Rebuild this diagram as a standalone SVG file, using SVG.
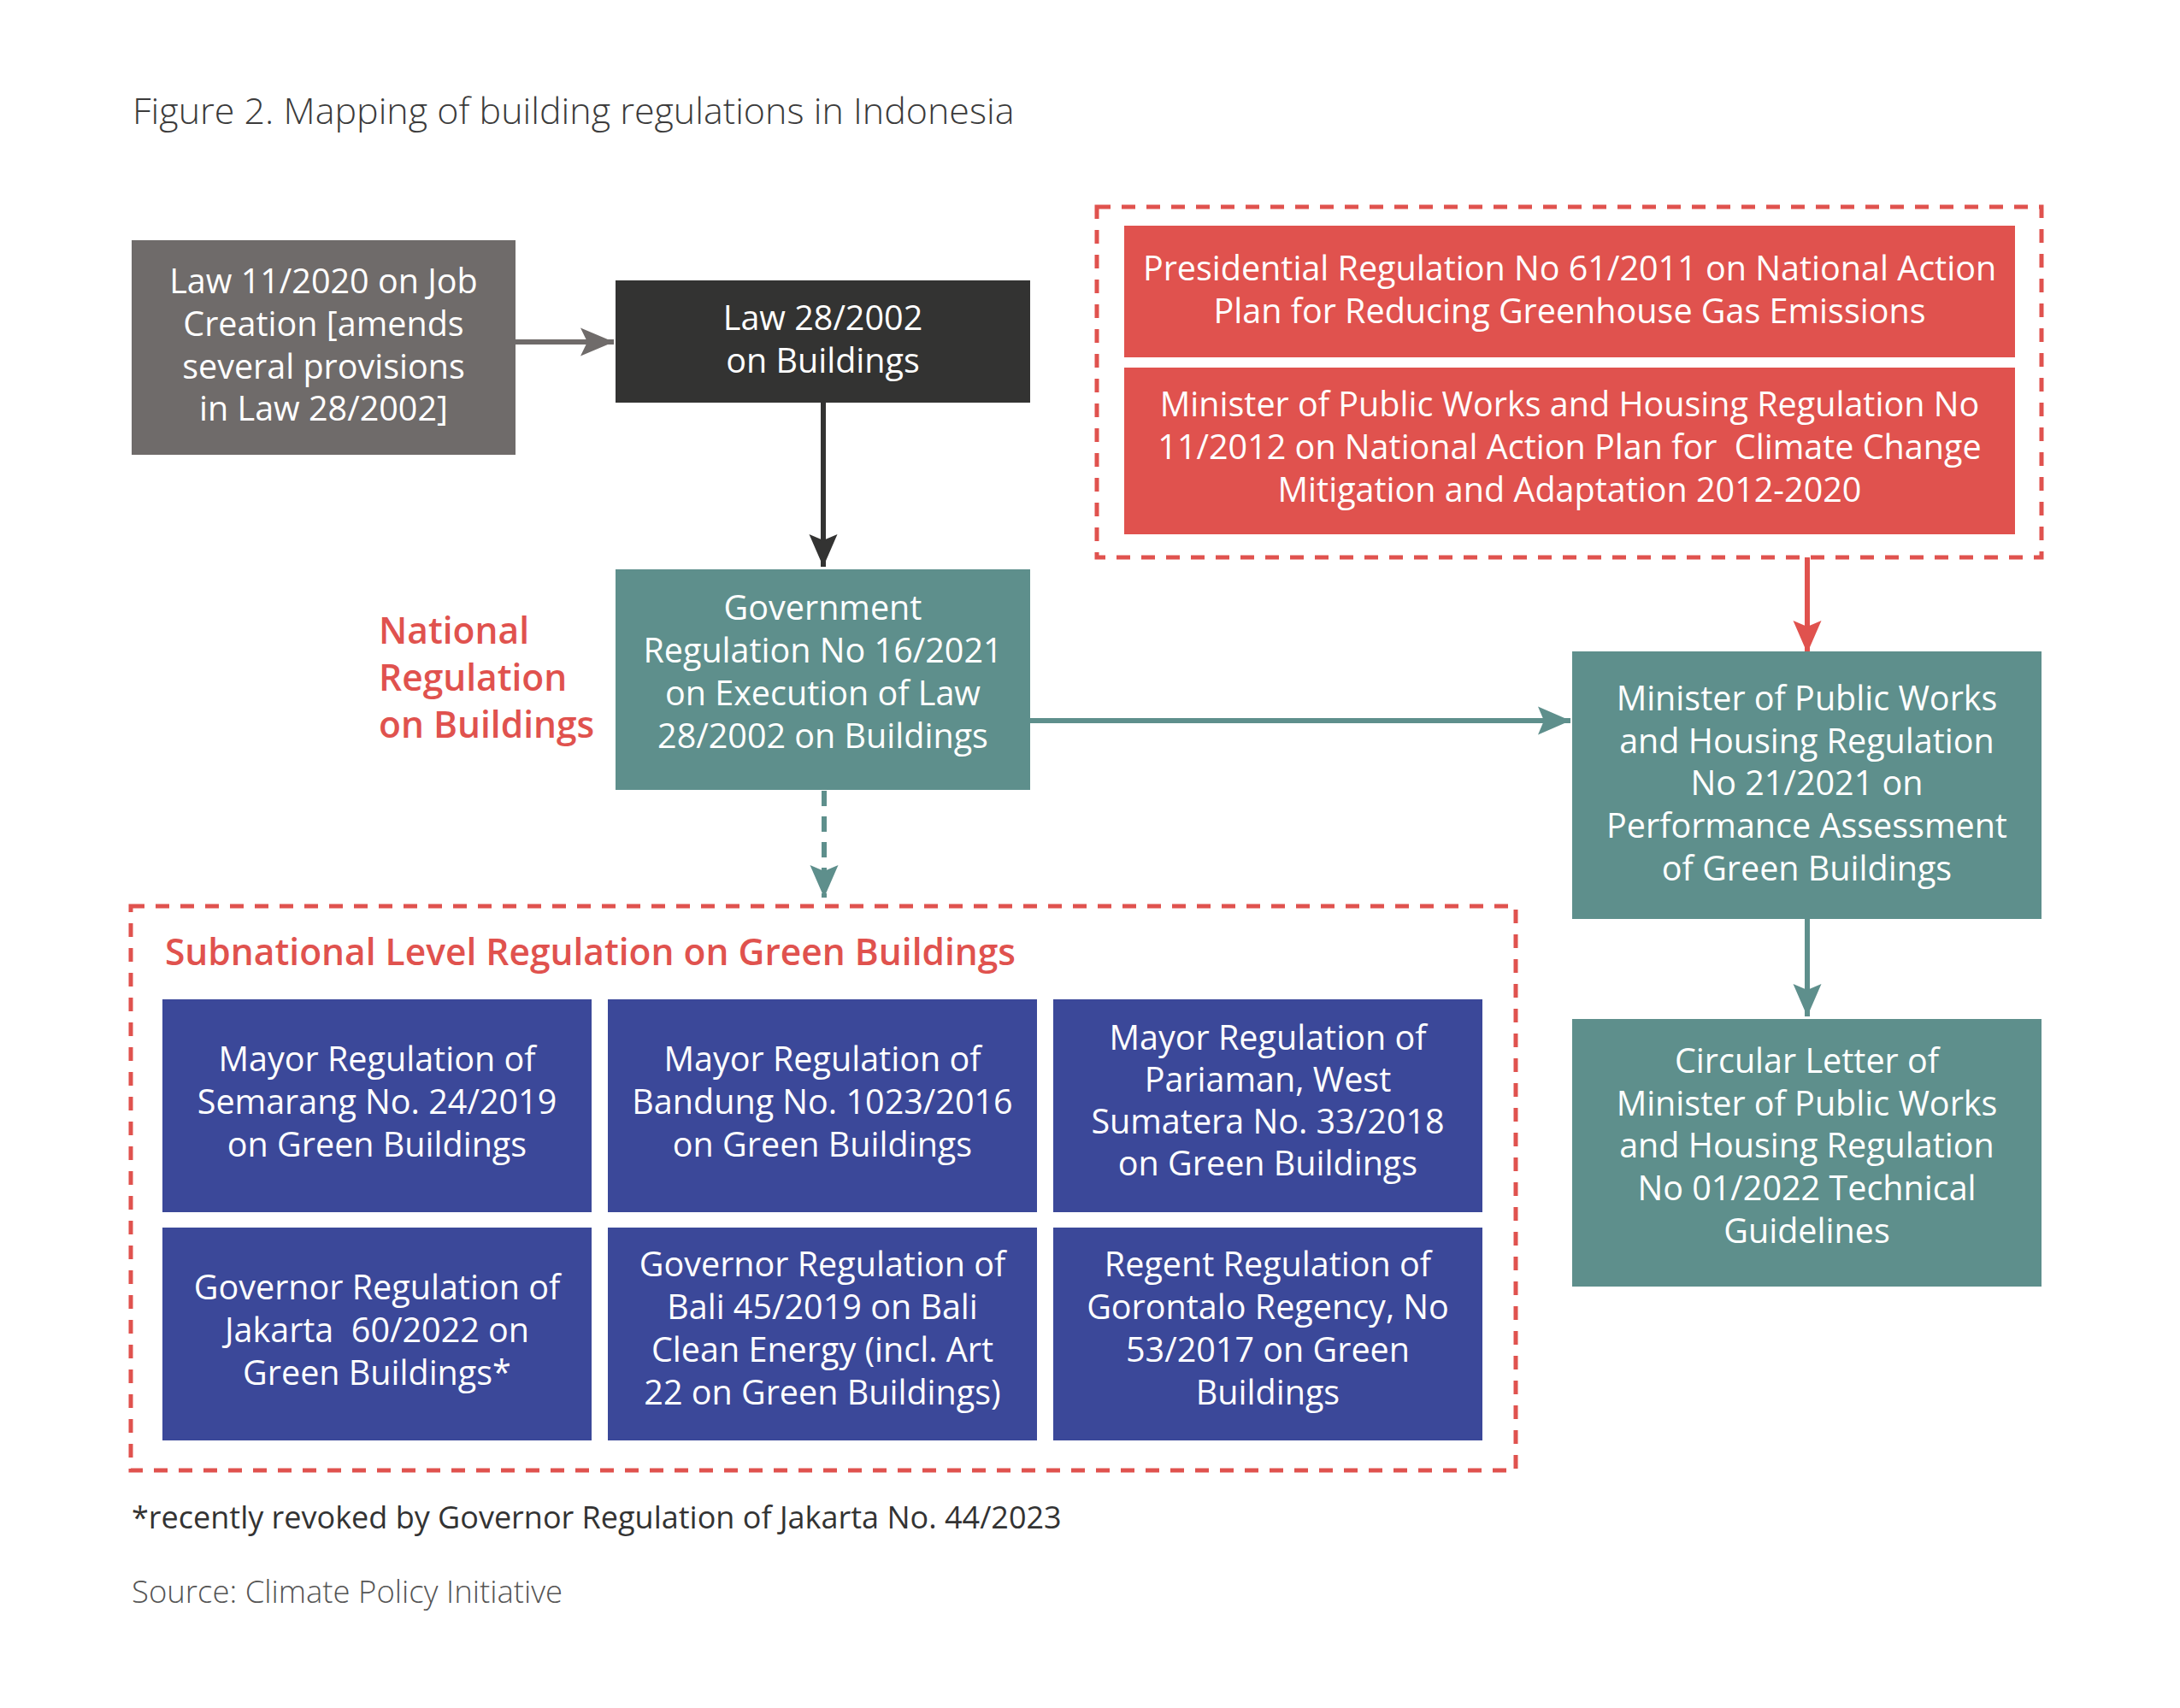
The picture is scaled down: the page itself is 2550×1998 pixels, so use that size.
<svg xmlns="http://www.w3.org/2000/svg" width="2550" height="1998" viewBox="0 0 2550 1998">
<style>
text{font-family:"Open Sans",Lato,"Liberation Sans",sans-serif}
.nt{fill:#ffffff;font-size:39.5px;text-anchor:middle}
.lbl{fill:#e0524e;font-size:42.5px;font-weight:600}
.ttl{fill:#3b3b3b;font-size:43px;font-weight:300}
.note{fill:#333333;font-size:36px}
.src{fill:#555555;font-size:36.5px;font-weight:300}
.grp{fill:none;stroke:#e0524e;stroke-width:5;stroke-dasharray:16 13}
.blue{fill:#3b4899}
.teal{fill:#5e8f8c}
.red{fill:#e0524e}
.pre{white-space:pre}
</style>
<defs>
<marker id="ah-gray" viewBox="-40 -18 42 36" refX="0" refY="0" markerWidth="42" markerHeight="36" markerUnits="userSpaceOnUse" orient="auto"><path d="M0,0 L-39,-16.5 L-31,0 L-39,16.5 Z" fill="#6f6b6a"/></marker>
<marker id="ah-dark" viewBox="-40 -18 42 36" refX="0" refY="0" markerWidth="42" markerHeight="36" markerUnits="userSpaceOnUse" orient="auto"><path d="M0,0 L-38,-16.5 L-31,0 L-38,16.5 Z" fill="#333332"/></marker>
<marker id="ah-teal" viewBox="-40 -18 42 36" refX="0" refY="0" markerWidth="42" markerHeight="36" markerUnits="userSpaceOnUse" orient="auto"><path d="M0,0 L-38,-16.5 L-31,0 L-38,16.5 Z" fill="#5e8f8c"/></marker>
<marker id="ah-red" viewBox="-40 -18 42 36" refX="0" refY="0" markerWidth="42" markerHeight="36" markerUnits="userSpaceOnUse" orient="auto"><path d="M0,0 L-38,-16.5 L-31,0 L-38,16.5 Z" fill="#e0524e"/></marker>
</defs>
<rect width="2550" height="1998" fill="#ffffff"/>

<text class="ttl" x="155" y="145">Figure 2. Mapping of building regulations in Indonesia</text>

<g id="connectors" fill="none" stroke-width="6">
<line x1="603" y1="400" x2="718" y2="400" stroke="#6f6b6a" marker-end="url(#ah-gray)"/>
<line x1="963" y1="471" x2="963" y2="663" stroke="#333332" marker-end="url(#ah-dark)"/>
<line x1="1205" y1="843" x2="1837" y2="843" stroke="#5e8f8c" marker-end="url(#ah-teal)"/>
<line x1="964" y1="925" x2="964" y2="1050" stroke="#5e8f8c" stroke-dasharray="18 12" marker-end="url(#ah-teal)"/>
<line x1="2114" y1="652" x2="2114" y2="764" stroke="#e0524e" marker-end="url(#ah-red)"/>
<line x1="2114" y1="1075" x2="2114" y2="1189" stroke="#5e8f8c" marker-end="url(#ah-teal)"/>
</g>

<g id="law-11-2020">
<rect x="154" y="281" width="449" height="251" fill="#6f6b6a"/>
<text class="nt"><tspan x="378.5" y="343">Law 11/2020 on Job</tspan><tspan x="378.5" y="393">Creation [amends</tspan><tspan x="378.5" y="443">several provisions</tspan><tspan x="378.5" y="492">in Law 28/2002]</tspan></text>
</g>

<g id="law-28-2002">
<rect x="720" y="328" width="485" height="143" fill="#333332"/>
<text class="nt"><tspan x="962.5" y="386">Law 28/2002</tspan><tspan x="962.5" y="436">on Buildings</tspan></text>
</g>

<g id="national-label">
<text class="lbl"><tspan x="443" y="753">National</tspan><tspan x="443" y="808">Regulation</tspan><tspan x="443" y="863">on Buildings</tspan></text>
</g>

<g id="gov-reg-16-2021">
<rect class="teal" x="720" y="666" width="485" height="258"/>
<text class="nt"><tspan x="962.5" y="725">Government</tspan><tspan x="962.5" y="775">Regulation No 16/2021</tspan><tspan x="962.5" y="825">on Execution of Law</tspan><tspan x="962.5" y="875">28/2002 on Buildings</tspan></text>
</g>

<g id="climate-group">
<rect class="grp" x="1283" y="242" width="1105" height="410"/>
<g id="pres-reg-61-2011">
<rect class="red" x="1315" y="264" width="1042" height="154"/>
<text class="nt"><tspan x="1836" y="328">Presidential Regulation No 61/2011 on National Action</tspan><tspan x="1836" y="378">Plan for Reducing Greenhouse Gas Emissions</tspan></text>
</g>
<g id="mpwh-reg-11-2012">
<rect class="red" x="1315" y="430" width="1042" height="195"/>
<text class="nt"><tspan x="1836" y="487">Minister of Public Works and Housing Regulation No</tspan><tspan class="pre" x="1836" y="537">11/2012 on National Action Plan for  Climate Change</tspan><tspan x="1836" y="587">Mitigation and Adaptation 2012-2020</tspan></text>
</g>
</g>

<g id="mpwh-reg-21-2021">
<rect class="teal" x="1839" y="762" width="549" height="313"/>
<text class="nt"><tspan x="2113.5" y="831">Minister of Public Works</tspan><tspan x="2113.5" y="881">and Housing Regulation</tspan><tspan x="2113.5" y="930">No 21/2021 on</tspan><tspan x="2113.5" y="980">Performance Assessment</tspan><tspan x="2113.5" y="1030">of Green Buildings</tspan></text>
</g>

<g id="circular-letter-01-2022">
<rect class="teal" x="1839" y="1192" width="549" height="313"/>
<text class="nt"><tspan x="2113.5" y="1255">Circular Letter of</tspan><tspan x="2113.5" y="1305">Minister of Public Works</tspan><tspan x="2113.5" y="1354">and Housing Regulation</tspan><tspan x="2113.5" y="1404">No 01/2022 Technical</tspan><tspan x="2113.5" y="1454">Guidelines</tspan></text>
</g>

<g id="subnational-group">
<rect class="grp" x="153" y="1060" width="1620" height="660"/>
<text class="lbl" x="193" y="1129">Subnational Level Regulation on Green Buildings</text>
<g id="semarang">
<rect class="blue" x="190" y="1169" width="502" height="249"/>
<text class="nt"><tspan x="441" y="1253">Mayor Regulation of</tspan><tspan x="441" y="1303">Semarang No. 24/2019</tspan><tspan x="441" y="1353">on Green Buildings</tspan></text>
</g>
<g id="bandung">
<rect class="blue" x="711" y="1169" width="502" height="249"/>
<text class="nt"><tspan x="962" y="1253">Mayor Regulation of</tspan><tspan x="962" y="1303">Bandung No. 1023/2016</tspan><tspan x="962" y="1353">on Green Buildings</tspan></text>
</g>
<g id="pariaman">
<rect class="blue" x="1232" y="1169" width="502" height="249"/>
<text class="nt"><tspan x="1483" y="1228">Mayor Regulation of</tspan><tspan x="1483" y="1277">Pariaman, West</tspan><tspan x="1483" y="1326">Sumatera No. 33/2018</tspan><tspan x="1483" y="1375">on Green Buildings</tspan></text>
</g>
<g id="jakarta">
<rect class="blue" x="190" y="1436" width="502" height="249"/>
<text class="nt"><tspan x="441" y="1520">Governor Regulation of</tspan><tspan class="pre" x="441" y="1570">Jakarta  60/2022 on</tspan><tspan x="441" y="1620">Green Buildings*</tspan></text>
</g>
<g id="bali">
<rect class="blue" x="711" y="1436" width="502" height="249"/>
<text class="nt"><tspan x="962" y="1493">Governor Regulation of</tspan><tspan x="962" y="1543">Bali 45/2019 on Bali</tspan><tspan x="962" y="1593">Clean Energy (incl. Art</tspan><tspan x="962" y="1643">22 on Green Buildings)</tspan></text>
</g>
<g id="gorontalo">
<rect class="blue" x="1232" y="1436" width="502" height="249"/>
<text class="nt"><tspan x="1483" y="1493">Regent Regulation of</tspan><tspan x="1483" y="1543">Gorontalo Regency, No</tspan><tspan x="1483" y="1593">53/2017 on Green</tspan><tspan x="1483" y="1643">Buildings</tspan></text>
</g>
</g>

<text class="note" x="154" y="1788">*recently revoked by Governor Regulation of Jakarta No. 44/2023</text>
<text class="src" x="154" y="1875">Source: Climate Policy Initiative</text>
</svg>
